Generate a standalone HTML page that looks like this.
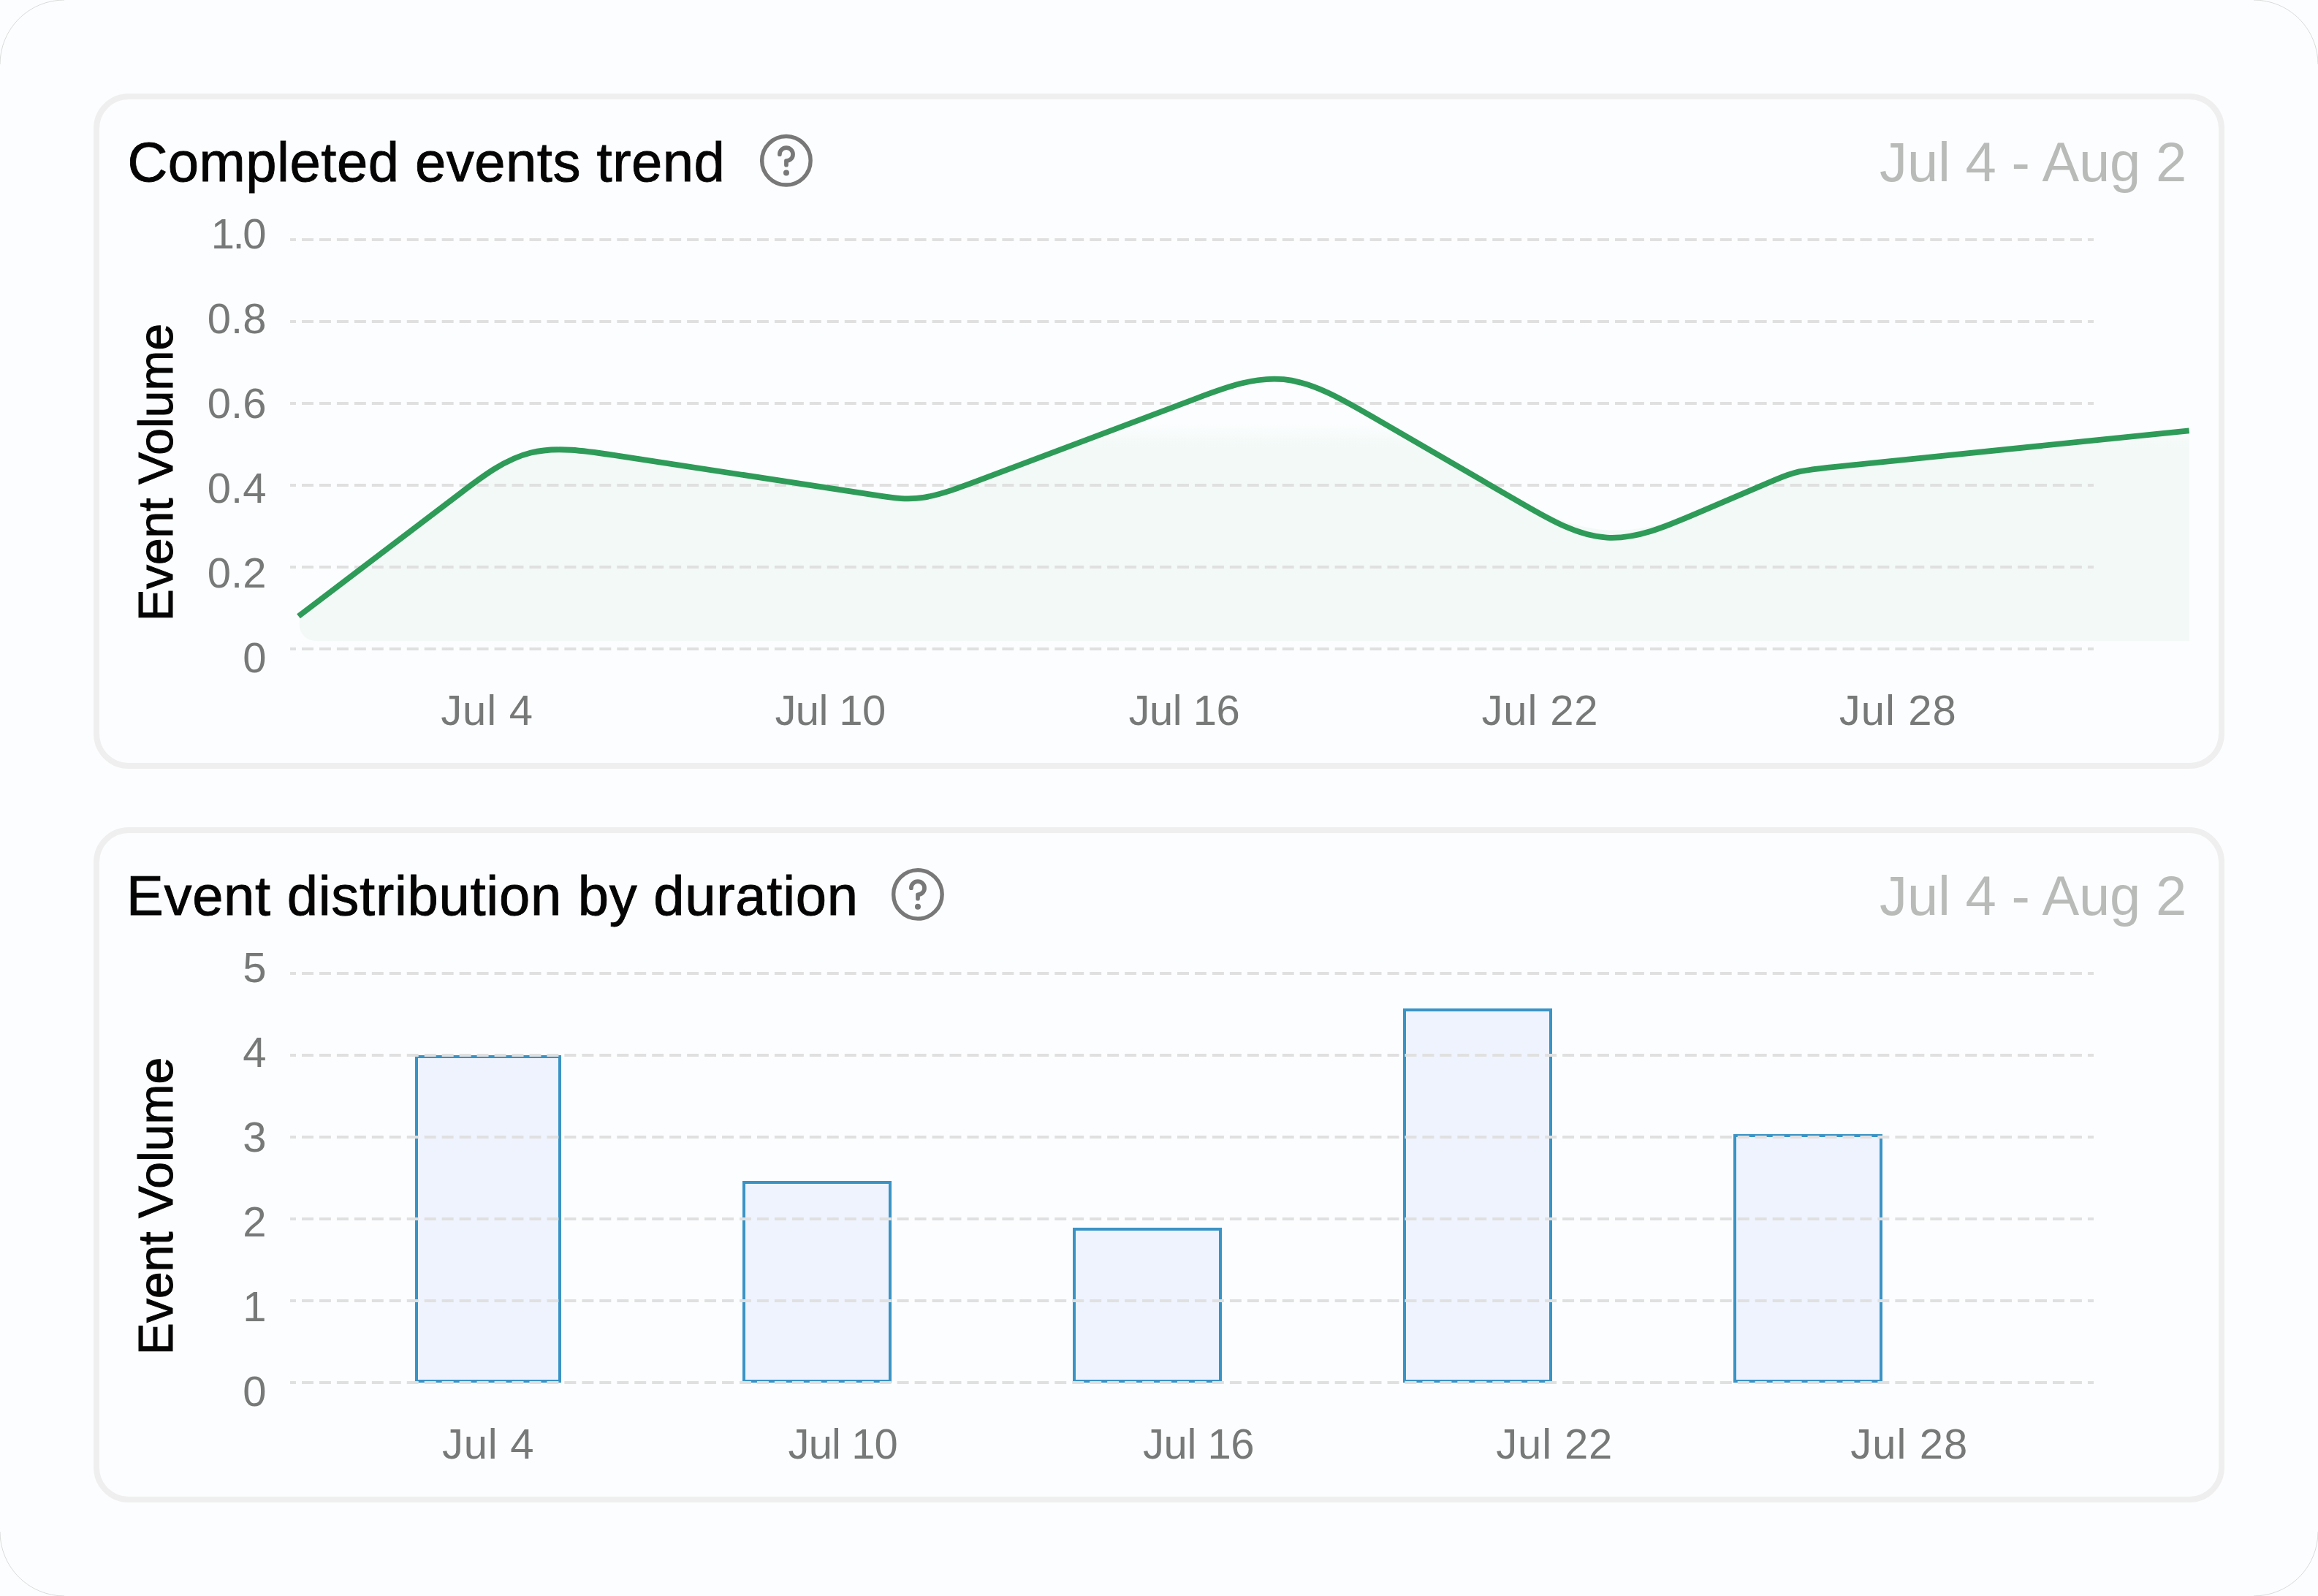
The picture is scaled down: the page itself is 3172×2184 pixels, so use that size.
<!DOCTYPE html><html><head><meta charset="utf-8"><style>html,body{margin:0;padding:0;background:#fcfdfe;width:3172px;height:2184px;overflow:hidden}svg{display:block}</style></head><body><svg width="3172" height="2184" viewBox="0 0 3172 2184"><defs><linearGradient id="ag" x1="0" y1="580" x2="0" y2="612" gradientUnits="userSpaceOnUse"><stop offset="0" stop-color="#f2f9f7" stop-opacity="0"/><stop offset="1" stop-color="#f2f9f7" stop-opacity="1"/></linearGradient><clipPath id="ac"><rect x="409.8" y="400" width="2586.2" height="477" rx="22" ry="22"/><rect x="409.8" y="400" width="2586.2" height="100"/><rect x="1500" y="400" width="1496" height="477"/></clipPath><clipPath id="ac2"><rect x="2000" y="660" width="420" height="217"/></clipPath></defs><rect width="3172" height="2184" fill="#fcfdfe"/><path d="M0 88 A88 88 0 0 1 88 0 M3084 0 A88 88 0 0 1 3172 88 M3172 2096 A88 88 0 0 1 3084 2184 M88 2184 A88 88 0 0 1 0 2096" fill="none" stroke="#bdbdbd" stroke-width="1" stroke-opacity="0.55"/><rect x="132" y="132" width="2908" height="916" rx="44" ry="44" fill="#fcfdfe" stroke="#efefef" stroke-width="8"/><text x="174.4" y="247.6" font-family="Liberation Sans, sans-serif" font-size="76" letter-spacing="0.5" fill="#050505" stroke="#050505" stroke-width="0.9">Completed events trend</text><text x="2992" y="248.3" font-family="Liberation Sans, sans-serif" font-size="76" letter-spacing="-0.2" text-anchor="end" fill="#b9bbb9">Jul 4 - Aug 2</text><g transform="translate(1035.90 179.80) scale(3.33333)" fill="none" stroke="#787878" stroke-width="1.62" stroke-linecap="round" stroke-linejoin="round"><circle cx="12" cy="12" r="9.98"/><path d="M9.3 9.4 A2.72 2.72 0 1 1 12.02 12.12 V13.75" stroke-width="1.72"/><circle cx="12.02" cy="17.02" r="1.2" fill="#787878" stroke="none"/></g><text transform="translate(236.2 646.5) rotate(-90)" font-family="Liberation Sans, sans-serif" font-size="66" text-anchor="middle" fill="#050505" stroke="#050505" stroke-width="1.0">Event Volume</text><text x="364.5" y="920.2" font-family="Liberation Sans, sans-serif" font-size="58" letter-spacing="0" text-anchor="end" fill="#777878">0</text><text x="364.5" y="804.2" font-family="Liberation Sans, sans-serif" font-size="58" letter-spacing="0" text-anchor="end" fill="#777878">0.2</text><text x="364.5" y="688.2" font-family="Liberation Sans, sans-serif" font-size="58" letter-spacing="0" text-anchor="end" fill="#777878">0.4</text><text x="364.5" y="572.2" font-family="Liberation Sans, sans-serif" font-size="58" letter-spacing="0" text-anchor="end" fill="#777878">0.6</text><text x="364.5" y="456.2" font-family="Liberation Sans, sans-serif" font-size="58" letter-spacing="0" text-anchor="end" fill="#777878">0.8</text><text x="362.05" y="340.2" font-family="Liberation Sans, sans-serif" font-size="58" letter-spacing="-2.45" text-anchor="end" fill="#777878">1.0</text><path d="M408.50 843.24 L630.11 674.82 C660.77 651.51 691.44 628.20 726.44 619.55 C761.44 610.90 800.77 616.91 840.11 622.92 L1204.62 678.58 C1223.28 681.43 1241.95 684.28 1264.95 680.55 C1287.95 676.82 1315.28 666.52 1342.62 656.21 L1636.82 545.30 C1676.82 530.22 1716.82 515.14 1756.82 519.20 C1796.82 523.26 1836.82 546.46 1876.82 569.66 L2081.48 688.36 C2120.14 710.78 2158.81 733.21 2198.81 735.60 C2238.81 737.99 2280.14 720.34 2321.48 702.69 L2428.58 656.95 C2438.58 652.68 2448.58 648.41 2461.92 645.43 C2475.25 642.44 2491.92 640.74 2508.58 639.04 L2995.70 589.36 L2995.70 877 L408.50 877 Z" fill="url(#ag)" clip-path="url(#ac)"/><path d="M408.50 843.24 L630.11 674.82 C660.77 651.51 691.44 628.20 726.44 619.55 C761.44 610.90 800.77 616.91 840.11 622.92 L1204.62 678.58 C1223.28 681.43 1241.95 684.28 1264.95 680.55 C1287.95 676.82 1315.28 666.52 1342.62 656.21 L1636.82 545.30 C1676.82 530.22 1716.82 515.14 1756.82 519.20 C1796.82 523.26 1836.82 546.46 1876.82 569.66 L2022.48 654.14 C2080.81 687.97 2139.14 721.80 2199.31 725.48 C2259.48 729.16 2321.48 702.69 2383.48 676.22 L2428.58 656.95 C2438.58 652.68 2448.58 648.41 2461.92 645.43 C2475.25 642.44 2491.92 640.74 2508.58 639.04 L2995.70 589.36 L2995.70 877 L408.50 877 Z" fill="#f2f9f7" clip-path="url(#ac2)"/><line x1="397" y1="888" x2="2865" y2="888" stroke="#e0e0e0" stroke-width="4" stroke-dasharray="15.97 7.99" stroke-dashoffset="7.96"/><line x1="397" y1="776" x2="2865" y2="776" stroke="#e0e0e0" stroke-width="4" stroke-dasharray="15.97 7.99" stroke-dashoffset="7.96"/><line x1="397" y1="664" x2="2865" y2="664" stroke="#e0e0e0" stroke-width="4" stroke-dasharray="15.97 7.99" stroke-dashoffset="7.96"/><line x1="397" y1="552" x2="2865" y2="552" stroke="#e0e0e0" stroke-width="4" stroke-dasharray="15.97 7.99" stroke-dashoffset="7.96"/><line x1="397" y1="440" x2="2865" y2="440" stroke="#e0e0e0" stroke-width="4" stroke-dasharray="15.97 7.99" stroke-dashoffset="7.96"/><line x1="397" y1="328" x2="2865" y2="328" stroke="#e0e0e0" stroke-width="4" stroke-dasharray="15.97 7.99" stroke-dashoffset="7.96"/><path d="M408.50 843.24 L630.11 674.82 C660.77 651.51 691.44 628.20 726.44 619.55 C761.44 610.90 800.77 616.91 840.11 622.92 L1204.62 678.58 C1223.28 681.43 1241.95 684.28 1264.95 680.55 C1287.95 676.82 1315.28 666.52 1342.62 656.21 L1636.82 545.30 C1676.82 530.22 1716.82 515.14 1756.82 519.20 C1796.82 523.26 1836.82 546.46 1876.82 569.66 L2081.48 688.36 C2120.14 710.78 2158.81 733.21 2198.81 735.60 C2238.81 737.99 2280.14 720.34 2321.48 702.69 L2428.58 656.95 C2438.58 652.68 2448.58 648.41 2461.92 645.43 C2475.25 642.44 2491.92 640.74 2508.58 639.04 L2995.70 589.36" fill="none" stroke="#2e9b58" stroke-width="7.8" stroke-linejoin="round"/><text x="603.3" y="992.3" font-family="Liberation Sans, sans-serif" font-size="58" letter-spacing="0.80" fill="#777878">Jul 4</text><text x="1060.4" y="992.3" font-family="Liberation Sans, sans-serif" font-size="58" letter-spacing="-0.58" fill="#777878">Jul 10</text><text x="1544.5" y="992.3" font-family="Liberation Sans, sans-serif" font-size="58" letter-spacing="-0.48" fill="#777878">Jul 16</text><text x="2027.5" y="992.3" font-family="Liberation Sans, sans-serif" font-size="58" letter-spacing="0.86" fill="#777878">Jul 22</text><text x="2516.7" y="992.3" font-family="Liberation Sans, sans-serif" font-size="58" letter-spacing="1.06" fill="#777878">Jul 28</text><rect x="132" y="1136" width="2908" height="916" rx="44" ry="44" fill="#fcfdfe" stroke="#efefef" stroke-width="8"/><text x="173" y="1251.6" font-family="Liberation Sans, sans-serif" font-size="76" letter-spacing="0.72" fill="#050505" stroke="#050505" stroke-width="0.9">Event distribution by duration</text><text x="2992" y="1252.3" font-family="Liberation Sans, sans-serif" font-size="76" letter-spacing="-0.2" text-anchor="end" fill="#b9bbb9">Jul 4 - Aug 2</text><g transform="translate(1215.90 1183.90) scale(3.33333)" fill="none" stroke="#787878" stroke-width="1.62" stroke-linecap="round" stroke-linejoin="round"><circle cx="12" cy="12" r="9.98"/><path d="M9.3 9.4 A2.72 2.72 0 1 1 12.02 12.12 V13.75" stroke-width="1.72"/><circle cx="12.02" cy="17.02" r="1.2" fill="#787878" stroke="none"/></g><text transform="translate(236.2 1650.5) rotate(-90)" font-family="Liberation Sans, sans-serif" font-size="66" text-anchor="middle" fill="#050505" stroke="#050505" stroke-width="1.0">Event Volume</text><text x="364.5" y="1924.2" font-family="Liberation Sans, sans-serif" font-size="58" letter-spacing="0" text-anchor="end" fill="#777878">0</text><text x="364.5" y="1808.2" font-family="Liberation Sans, sans-serif" font-size="58" letter-spacing="0" text-anchor="end" fill="#777878">1</text><text x="364.5" y="1692.2" font-family="Liberation Sans, sans-serif" font-size="58" letter-spacing="0" text-anchor="end" fill="#777878">2</text><text x="364.5" y="1576.2" font-family="Liberation Sans, sans-serif" font-size="58" letter-spacing="0" text-anchor="end" fill="#777878">3</text><text x="364.5" y="1460.2" font-family="Liberation Sans, sans-serif" font-size="58" letter-spacing="0" text-anchor="end" fill="#777878">4</text><text x="364.5" y="1344.2" font-family="Liberation Sans, sans-serif" font-size="58" letter-spacing="0" text-anchor="end" fill="#777878">5</text><rect x="570" y="1446" width="196" height="444" fill="#eef3fd" stroke="#3a93c5" stroke-width="4"/><rect x="1018" y="1618" width="200" height="272" fill="#eef3fd" stroke="#3a93c5" stroke-width="4"/><rect x="1470" y="1682" width="200" height="208" fill="#eef3fd" stroke="#3a93c5" stroke-width="4"/><rect x="1922" y="1382" width="200" height="508" fill="#eef3fd" stroke="#3a93c5" stroke-width="4"/><rect x="2374" y="1554" width="200" height="336" fill="#eef3fd" stroke="#3a93c5" stroke-width="4"/><line x1="397" y1="1892" x2="2865" y2="1892" stroke="#e0e0e0" stroke-width="4" stroke-dasharray="15.97 7.99" stroke-dashoffset="7.96"/><line x1="397" y1="1780" x2="2865" y2="1780" stroke="#e0e0e0" stroke-width="4" stroke-dasharray="15.97 7.99" stroke-dashoffset="7.96"/><line x1="397" y1="1668" x2="2865" y2="1668" stroke="#e0e0e0" stroke-width="4" stroke-dasharray="15.97 7.99" stroke-dashoffset="7.96"/><line x1="397" y1="1556" x2="2865" y2="1556" stroke="#e0e0e0" stroke-width="4" stroke-dasharray="15.97 7.99" stroke-dashoffset="7.96"/><line x1="397" y1="1444" x2="2865" y2="1444" stroke="#e0e0e0" stroke-width="4" stroke-dasharray="15.97 7.99" stroke-dashoffset="7.96"/><line x1="397" y1="1332" x2="2865" y2="1332" stroke="#e0e0e0" stroke-width="4" stroke-dasharray="15.97 7.99" stroke-dashoffset="7.96"/><text x="604.9" y="1996.3" font-family="Liberation Sans, sans-serif" font-size="58" letter-spacing="0.80" fill="#777878">Jul 4</text><text x="1078.6" y="1996.3" font-family="Liberation Sans, sans-serif" font-size="58" letter-spacing="-0.90" fill="#777878">Jul 10</text><text x="1564.1" y="1996.3" font-family="Liberation Sans, sans-serif" font-size="58" letter-spacing="-0.48" fill="#777878">Jul 16</text><text x="2047.2" y="1996.3" font-family="Liberation Sans, sans-serif" font-size="58" letter-spacing="0.86" fill="#777878">Jul 22</text><text x="2532.2" y="1996.3" font-family="Liberation Sans, sans-serif" font-size="58" letter-spacing="1.08" fill="#777878">Jul 28</text></svg></body></html>
